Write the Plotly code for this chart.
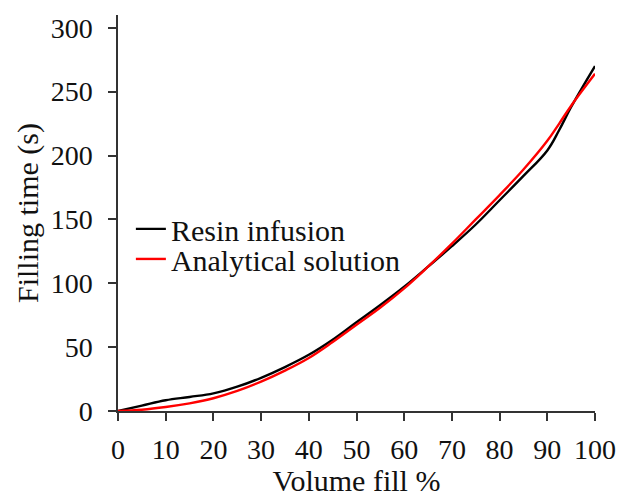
import plotly.graph_objects as go

volume_fill = [0, 5, 10, 15, 20, 25, 30, 35, 40, 45, 50, 55, 60, 65, 70, 75, 80, 85, 90, 92.5, 95, 100]
resin_infusion = [0, 4.2, 8.4, 11, 13.8, 19, 26, 34.4, 44, 55.8, 69.5, 83, 97.3, 113, 129, 146, 165, 184, 204, 220, 238, 270]
analytical = [0, 1, 3.1, 6, 10, 15.7, 23, 31.6, 41.5, 54, 67.5, 81, 96, 113, 131, 150, 169, 189, 211.5, 225, 239, 264]

x_ticks = [0, 10, 20, 30, 40, 50, 60, 70, 80, 90, 100]
y_ticks = [0, 50, 100, 150, 200, 250, 300]

FONT = "Liberation Serif"
TICKF = dict(family=FONT, size=28, color="#111")
TF = dict(family=FONT, size=30, color="#111")

fig = go.Figure()
fig.add_trace(go.Scatter(x=volume_fill, y=resin_infusion, mode="lines", name="Resin infusion",
                         line=dict(color="black", width=2.4, shape="spline", smoothing=1.1),
                         legend="legend"))
fig.add_trace(go.Scatter(x=volume_fill, y=analytical, mode="lines", name="Analytical solution",
                         line=dict(color="red", width=2.4, shape="spline", smoothing=1.1),
                         legend="legend2"))

leg_common = dict(xanchor="left", yanchor="middle", bgcolor="rgba(0,0,0,0)",
                  font=TF, itemwidth=30, borderwidth=0)

fig.update_layout(
    width=622, height=497,
    margin=dict(l=118, r=27, t=15, b=86),
    paper_bgcolor="white", plot_bgcolor="white",
    font=TF,
    showlegend=True,
    legend=dict(x=0.027, y=0.46, **leg_common),
    legend2=dict(x=0.027, y=0.384, **leg_common),
    xaxis=dict(range=[0, 100], tickvals=x_ticks, ticks="outside", ticklen=8, tickwidth=1.5,
               tickcolor="#333", showline=True, linecolor="#333", linewidth=1.5,
               showgrid=False, zeroline=False, tickfont=TICKF, automargin=False,
               ticklabelstandoff=5,
               title=dict(text="Volume fill %", standoff=2, font=TF)),
    yaxis=dict(range=[0, 310], tickvals=y_ticks, ticks="outside", ticklen=8, tickwidth=1.5,
               tickcolor="#333", showline=True, linecolor="#333", linewidth=1.5,
               showgrid=False, zeroline=False, ticklabelstandoff=10, tickfont=TICKF, automargin=False,
               title=dict(text="Filling time (s)", standoff=3, font=TF)),
)

fig.write_html("out.html", config={"displayModeBar": False},
               post_script="document.body.style.margin='0';")
